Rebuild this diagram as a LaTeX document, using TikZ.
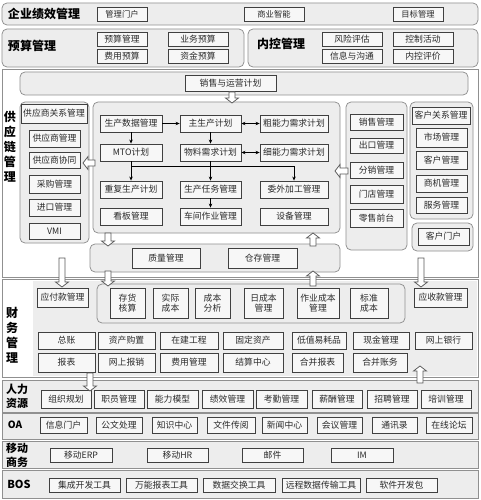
\documentclass[tikz,border=0pt]{standalone}
\usepackage{fontspec}
\setmainfont{Noto Sans CJK SC}
\usetikzlibrary{arrows.meta}
\definecolor{boxline}{HTML}{404040}
\definecolor{boxfill}{HTML}{F7F7F7}
\definecolor{panelline}{HTML}{909090}
\definecolor{panelfill}{HTML}{EDEDED}
\definecolor{txt}{HTML}{2A2A2A}
\newcommand{\bx}[6]{\node[box, minimum width={#4-#2}, minimum height={#5-#3}] (#1) at ({(#2+#4)/2},{(#3+#5)/2}) {#6};}
\newcommand{\pn}[5]{\node[panel, minimum width={#4-#2}, minimum height={#5-#3}] (#1) at ({(#2+#4)/2},{(#3+#5)/2}) {};}
\newcommand{\fr}[6]{\node[#6, minimum width={#4-#2}, minimum height={#5-#3}] (#1) at ({(#2+#4)/2},{(#3+#5)/2}) {};}
% hollow arrows
\newcommand{\hdown}[3]{\draw[hol] (#1-3,#2) -- (#1+3,#2) -- (#1+3,#3-5) -- (#1+6.5,#3-5) -- (#1,#3) -- (#1-6.5,#3-5) -- (#1-3,#3-5) -- cycle;}
\newcommand{\hup}[3]{\draw[hol] (#1-3,#2) -- (#1+3,#2) -- (#1+3,#3+5) -- (#1+6.5,#3+5) -- (#1,#3) -- (#1-6.5,#3+5) -- (#1-3,#3+5) -- cycle;}
\newcommand{\hleft}[3]{\draw[hol] (#2,#1-3) -- (#2,#1+3) -- (#3+5,#1+3) -- (#3+5,#1+6.5) -- (#3,#1) -- (#3+5,#1-6.5) -- (#3+5,#1-3) -- cycle;}
\begin{document}
\begin{tikzpicture}[x=1pt,y=-1pt,
  box/.style={draw=boxline, fill=boxfill, line width=0.85pt, inner sep=0pt, text=txt, font=\fontsize{8.8}{10.5}\selectfont, align=center},
  panel/.style={draw=panelline, fill=panelfill, line width=0.75pt, rounded corners=5pt, inner sep=0pt},
  frame/.style={draw=panelline, fill=white, line width=0.75pt, inner sep=0pt},
  sect/.style={draw=panelline, fill=panelfill, line width=0.75pt, inner sep=0pt},
  ttl/.style={font=\bfseries\fontsize{12}{15}\selectfont, text=black, inner sep=0pt, align=center},
  arr/.style={-{Stealth[length=4pt,width=3.5pt]}, line width=0.75pt, black},
  darr/.style={{Stealth[length=4pt,width=3.5pt]}-{Stealth[length=4pt,width=3.5pt]}, line width=0.75pt, black},
  hol/.style={draw=gray!70!black, fill=white, line width=0.75pt}]
\useasboundingbox (0,0) rectangle (480,500);
\fill[white] (0,0) rectangle (480,500);

% ---------- row 1
\pn{p1}{2}{3}{478}{25}
\node[ttl] (t1) at (44,14) {企业绩效管理};
\begin{scope}[box/.append style={font=\fontsize{8.3}{10}\selectfont}]
\bx{glmh}{97}{7}{147}{21}{管理门户}
\bx{syzn}{244}{7}{304}{21}{商业智能}
\bx{mbgl}{393}{7}{443}{21}{目标管理}
\end{scope}

% ---------- row 2
\pn{p2}{2}{29}{244}{67}
\node[ttl] (t2) at (32,46) {预算管理};
\bx{ysgl}{97}{32}{147}{46}{预算管理}
\bx{ywys}{168}{32}{228}{46}{业务预算}
\bx{fyys}{97}{49}{147}{63}{费用预算}
\bx{zjys}{168}{49}{228}{63}{资金预算}
\pn{p3}{248}{29}{478}{67}
\node[ttl] (t3) at (281,44) {内控管理};
\bx{fxpg}{322}{32}{382}{46}{风险评估}
\bx{kzhd}{393}{32}{453}{46}{控制活动}
\bx{xxgt}{322}{49}{382}{63}{信息与沟通}
\bx{nkpj}{393}{49}{453}{63}{内控评价}

% ---------- supply chain
\fr{fsc}{2}{69}{478}{277}{frame}
\node[ttl] (tsc) at (10,147) {供\\应\\链\\管\\理};
\pn{psop}{20}{72}{468}{95}
\bx{sop}{185}{75}{276}{91}{销售与运营计划}

\pn{psup}{20}{102}{89}{243}
\bx{gysgx}{21}{104}{87}{123}{供应商关系管理}
\bx{gysgl}{29}{130}{80}{147}{供应商管理}
\bx{gysxt}{29}{152}{80}{168}{供应商协同}
\bx{cggl}{29}{175}{80}{193}{采购管理}
\bx{jkgl}{29}{199}{80}{216}{进口管理}
\bx{vmi}{29}{223}{80}{239}{VMI}

\pn{pprod}{93}{102}{340}{233}
\bx{scsj}{100}{115}{162}{132}{生产数据管理}
\bx{zsc}{180}{115}{241}{132}{主生产计划}
\bx{cnl}{260}{115}{328}{132}{粗能力需求计划}
\bx{mto}{100}{144}{162}{161}{MTO计划}
\bx{wl}{180}{144}{241}{161}{物料需求计划}
\bx{xnl}{260}{144}{328}{161}{细能力需求计划}
\bx{cfsc}{100}{181}{162}{198}{重复生产计划}
\bx{scrw}{180}{181}{241}{198}{生产任务管理}
\bx{wwjg}{260}{181}{328}{198}{委外加工管理}
\bx{kbgl}{100}{208}{162}{225}{看板管理}
\bx{cjzy}{180}{208}{241}{225}{车间作业管理}
\bx{sbgl}{260}{208}{328}{225}{设备管理}
\draw[arr] (scsj) -- (zsc);
\draw[darr] (zsc) -- (cnl);
\draw[arr] (scsj) -- (mto);
\draw[arr] (zsc) -- (wl);
\draw[darr] (wl) -- (xnl);
\draw[arr] (mto) -- (cfsc);
\draw[arr] (wl) -- (scrw);
\draw[arr] (scrw) -- (cjzy);
\coordinate (hl) at (131,166);
\coordinate (hr) at (294,166);
\draw[line width=0.75pt] (hl) -- (hr);
\draw[arr] (hr) -- (wwjg);

\pn{psal}{346}{102}{407}{250}
\bx{xsgl}{350}{114}{403}{130}{销售管理}
\bx{ckgl}{350}{138}{403}{153}{出口管理}
\bx{fxgl}{350}{162}{403}{178}{分销管理}
\bx{mdgl}{350}{185}{403}{203}{门店管理}
\bx{lsqt}{350}{209}{403}{227}{零售前台}

\pn{pcus}{410}{102}{473}{219}
\bx{khgx}{412}{107}{470}{124}{客户关系管理}
\bx{scgl}{416}{128}{467}{147}{市场管理}
\bx{khgl}{416}{151}{467}{169}{客户管理}
\bx{sjgl}{416}{175}{467}{192}{商机管理}
\bx{fwgl}{416}{197}{467}{213}{服务管理}
\pn{pport}{412}{223}{473}{251}
\bx{khmh}{418}{228}{469}{245}{客户门户}

\pn{pqw}{90}{244}{340}{272}
\bx{zlgl}{132}{248}{200}{268}{质量管理}
\bx{ccgl}{228}{248}{297}{268}{仓存管理}

% ---------- finance
\fr{ffin}{2}{279}{478}{377}{frame}
\fill[panelfill] (33,280.5) rectangle (477,376);
\node[ttl] (tfin) at (12,335) {财\\务\\管\\理};
\bx{yfk}{37}{288}{88}{307}{应付款管理}
\pn{pcost}{97}{284}{405}{323}
\bx{chhs}{110}{288}{145}{318}{存货\\核算}
\bx{sjcb}{153}{288}{188}{318}{实际\\成本}
\bx{cbfx}{195}{288}{230}{318}{成本\\分析}
\bx{rcb}{244}{288}{283}{318}{日成本\\管理}
\bx{zycb}{297}{288}{339}{318}{作业成本\\管理}
\bx{bzcb}{350}{288}{388}{318}{标准\\成本}
\bx{ysk}{414}{288}{467}{307}{应收款管理}
\bx{zz}{38}{332}{95}{349}{总账}
\bx{zcgz}{98}{332}{155}{349}{资产购置}
\bx{zjgc}{160}{332}{218}{349}{在建工程}
\bx{gdzc}{223}{332}{283}{349}{固定资产}
\bx{dzyh}{292}{332}{346}{349}{低值易耗品}
\bx{xjgl}{353}{332}{409}{349}{现金管理}
\bx{wsyh}{415}{332}{472}{349}{网上银行}
\bx{bb}{38}{353}{95}{372}{报表}
\bx{wsbx}{98}{353}{155}{372}{网上报销}
\bx{fygl}{160}{353}{218}{372}{费用管理}
\bx{jszx}{223}{353}{283}{372}{结算中心}
\bx{hbbb}{292}{353}{343}{372}{合并报表}
\bx{hbzw}{353}{353}{407}{372}{合并账务}

% ---------- HR
\fr{fhr}{2}{380}{478}{412}{sect}
\node[ttl, font=\bfseries\fontsize{11}{14}\selectfont] (thr) at (17,396) {人力\\资源};
\bx{zzgh}{41}{390}{91}{408}{组织规划}
\bx{zygl}{94}{390}{144}{408}{职员管理}
\bx{nlmx}{147}{390}{198}{408}{能力模型}
\bx{jxgl}{202}{390}{253}{408}{绩效管理}
\bx{kqgl}{256}{390}{307}{408}{考勤管理}
\bx{xcgl}{312}{390}{362}{408}{薪酬管理}
\bx{zpgl}{367}{390}{417}{408}{招聘管理}
\bx{pxgl}{421}{390}{471}{408}{培训管理}

% ---------- OA
\fr{foa}{2}{413}{478}{439}{sect}
\node[ttl, font=\bfseries\fontsize{10}{12}\selectfont] (toa) at (15,425) {OA};
\bx{xxmh}{40}{417}{87}{433}{信息门户}
\bx{gwcl}{96}{417}{142}{433}{公文处理}
\bx{zszx}{152}{417}{197}{433}{知识中心}
\bx{wjcy}{207}{417}{255}{433}{文件传阅}
\bx{xwzx}{262}{417}{307}{433}{新闻中心}
\bx{hygl}{317}{417}{362}{433}{会议管理}
\bx{txl}{372}{417}{417}{433}{通讯录}
\bx{zxlt}{426}{417}{472}{433}{在线论坛}

% ---------- mobile
\fr{fmb}{2}{441}{478}{468}{sect}
\node[ttl, font=\bfseries\fontsize{11}{14}\selectfont] (tmb) at (17,455) {移动\\商务};
\bx{ydERP}{50}{448}{112}{462}{移动ERP}
\bx{ydHR}{147}{448}{208}{462}{移动HR}
\bx{yj}{242}{448}{303}{462}{邮件}
\bx{im}{331}{448}{393}{462}{IM}

% ---------- BOS
\fr{fbos}{2}{470}{478}{498}{sect}
\node[ttl, font=\bfseries\fontsize{11}{14}\selectfont] (tbos) at (19,484) {BOS};
\bx{jckf}{49}{478}{120}{492}{集成开发工具}
\bx{wnbb}{126}{478}{197}{492}{万能报表工具}
\bx{sjjh}{203}{478}{275}{492}{数据交换工具}
\bx{ycsj}{282}{478}{360}{492}{远程数据传输工具}
\bx{rjkf}{366}{478}{437}{492}{软件开发包}

% ---------- hollow arrows
\hdown{232}{92}{103}
\hleft{163}{95}{83}
\hleft{171}{348}{335}
\hdown{108}{233}{246}
\hup{313}{246}{233}
\hdown{108}{271}{286}
\hup{313}{286}{271}
\hdown{62}{258}{287}
\hdown{421}{258}{287}
\hdown{90}{373}{391}
\hup{420}{383}{366}
\end{tikzpicture}
\end{document}
